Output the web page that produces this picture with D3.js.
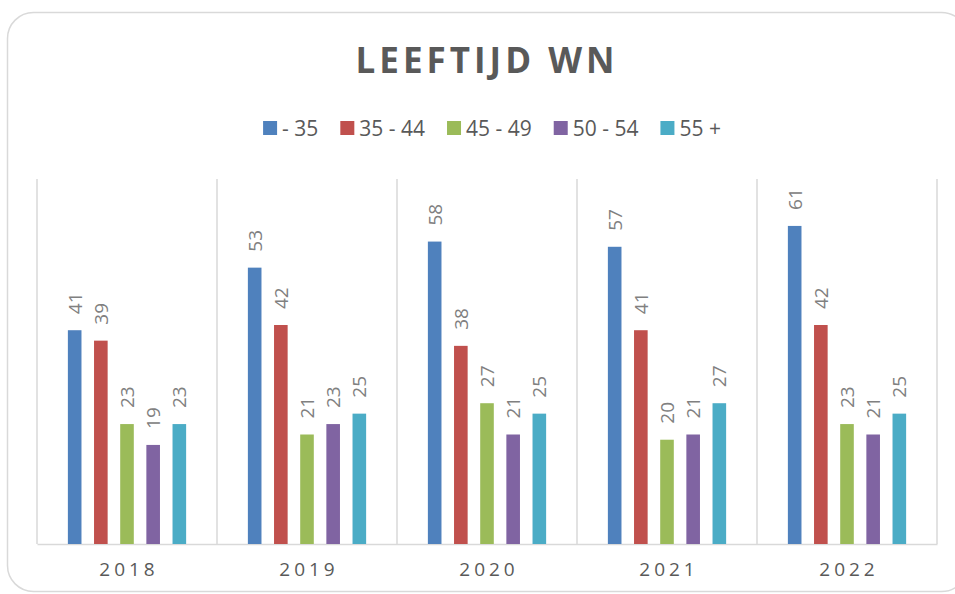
<!DOCTYPE html>
<html>
<head>
<meta charset="utf-8">
<script src="https://cdn.jsdelivr.net/npm/d3@7"></script>
<style>
  html, body { margin: 0; padding: 0; background: #fff; }
  svg { display: block; font-family: "Open Sans", "DejaVu Sans", sans-serif; }
</style>
</head>
<body>
<svg id="chart" width="955" height="594"></svg>
<script>
// chart data
const years = ['2018', '2019', '2020', '2021', '2022'];
const groups = ['- 35', '35 - 44', '45 - 49', '50 - 54', '55 +'];
const colors = ['#4f81bd', '#c0504d', '#9bbb59', '#8064a2', '#4bacc6'];
const under35 = [41, 53, 58, 57, 61];
const from35to44 = [39, 42, 38, 41, 42];
const from45to49 = [23, 21, 27, 20, 23];
const from50to54 = [19, 23, 21, 21, 21];
const over55 = [23, 25, 25, 27, 25];
const series = [under35, from35to44, from45to49, from50to54, over55];

const svg = d3.select('#chart');

// outer frame
svg.append('rect')
    .attr('x', 7.5).attr('y', 12.5)
    .attr('width', 960).attr('height', 579)
    .attr('rx', 26).attr('ry', 26)
    .attr('fill', '#fff')
    .attr('stroke', '#d9d9d9')
    .attr('stroke-width', 1.5);

// title
svg.append('text')
    .attr('x', 487).attr('y', 73)
    .attr('text-anchor', 'middle')
    .attr('font-size', 35)
    .attr('font-weight', 'bold')
    .attr('letter-spacing', 4)
    .attr('fill', '#595959')
    .text('LEEFTIJD WN');

// legend
const legend = svg.append('g');
let lx = 0;
groups.forEach((g, i) => {
    const item = legend.append('g').attr('transform', `translate(${lx},0)`);
    item.append('rect')
        .attr('x', 0).attr('y', -7)
        .attr('width', 14).attr('height', 14)
        .attr('fill', colors[i]);
    const t = item.append('text')
        .attr('x', 19).attr('y', 0).attr('dy', '0.36em')
        .attr('font-size', 21)
        .attr('fill', '#595959')
        .text(g);
    lx += 19 + t.node().getComputedTextLength() + 22;
});
lx -= 22;
legend.attr('transform', `translate(${492 - lx / 2},128)`);

// scales
const x = d3.scaleBand().domain(years).range([37, 937]);
const xs = d3.scaleBand().domain(d3.range(groups.length))
    .range([0, x.bandwidth()])
    .paddingInner(0.48).paddingOuter(1.18);
const y = d3.scaleLinear().domain([0, 70]).range([544, 179]);

// vertical category separators
const seps = years.map(d => x(d)).concat([x.range()[1]]);
svg.append('g').selectAll('line')
    .data(seps).join('line')
    .attr('x1', d => d).attr('x2', d => d)
    .attr('y1', y(70)).attr('y2', y(0))
    .attr('stroke', '#d9d9d9').attr('stroke-width', 1.5);

// x axis
const xAxis = svg.append('g')
    .attr('transform', `translate(0,${y(0)})`)
    .call(d3.axisBottom(x).tickSize(0).tickPadding(19));
xAxis.select('.domain').attr('stroke', '#d9d9d9').attr('stroke-width', 1.5);
xAxis.selectAll('text')
    .attr('font-size', 19)
    .attr('letter-spacing', 4)
    .attr('dx', 2)
    .attr('font-family', '"Open Sans", sans-serif')
    .attr('fill', '#595959');

// bars
const cats = svg.append('g').selectAll('g')
    .data(years).join('g')
    .attr('transform', d => `translate(${x(d)},0)`);

cats.each(function (yr, yi) {
    const g = d3.select(this);
    series.forEach((s, si) => {
        const v = s[yi];
        g.append('rect')
            .attr('x', xs(si))
            .attr('y', y(v))
            .attr('width', xs.bandwidth())
            .attr('height', y(0) - y(v))
            .attr('fill', colors[si]);
        const cx = xs(si) + xs.bandwidth() / 2;
        const cy = y(v) - 16;
        g.append('text')
            .attr('transform', `translate(${cx},${cy}) rotate(-90)`)
            .attr('dy', '0.36em')
            .attr('font-size', 19)
            .attr('fill', '#808080')
            .text(v);
    });
});
</script>
</body>
</html>
